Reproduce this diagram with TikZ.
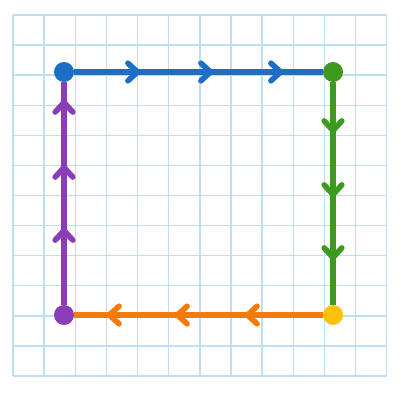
\documentclass[tikz,border=0pt]{standalone}
\usepackage{tikz}
\usetikzlibrary{arrows.meta,decorations.markings}

\definecolor{gridblue}{HTML}{BEDFF3}
\definecolor{sideblue}{HTML}{1E6EC8}
\definecolor{sidegreen}{HTML}{3C9A1C}
\definecolor{sideorange}{HTML}{F57A0C}
\definecolor{sidepurple}{HTML}{8B3DB8}
\definecolor{dotyellow}{HTML}{FFC20A}

\begin{document}
\begin{tikzpicture}[x=0.025cm,y=-0.025cm,
	gridline/.style={gridblue,line width=0.035cm},
	dot/.style={circle,inner sep=0pt,minimum size=0.5cm},
	side/.style={line width=0.14cm},
	barb/.tip={Straight Barb[length=0.24cm,width=0.44cm,round]},
	flow/.style n args={3}{postaction={decorate,decoration={markings,
		mark=at position #1 with {\arrow{barb}},
		mark=at position #2 with {\arrow{barb}},
		mark=at position #3 with {\arrow{barb}}}}}]

		\useasboundingbox (0,0) rectangle (400,400);
		\fill[white] (0,0) rectangle (400,400);

		% grid paper
		\foreach \i in {0,...,12} {
			\draw[gridline] (13+31.14*\i,15) -- (13+31.14*\i,376);
			\draw[gridline] (13,15+30.08*\i) -- (386.7,15+30.08*\i);
		}

		\node[dot,fill=sideblue] (tl) at (64,72) {};
		\node[dot,fill=sidegreen] (tr) at (333,72) {};
		\node[dot,fill=dotyellow] (br) at (333,315) {};
		\node[dot,fill=sidepurple] (bl) at (64,315) {};

		\draw[side,sideblue,flow={1.65cm}{3.475cm}{5.225cm}] (tl) -- (tr);
		\draw[side,sidegreen,flow={1.275cm}{2.875cm}{4.45cm}] (tr) -- (br);
		\draw[side,sideorange,flow={1.95cm}{3.7cm}{5.4cm}] (br) -- (bl);
		\draw[side,sidepurple,flow={1.925cm}{3.5cm}{5.125cm}] (bl) -- (tl);

	\end{tikzpicture}
\end{document}
